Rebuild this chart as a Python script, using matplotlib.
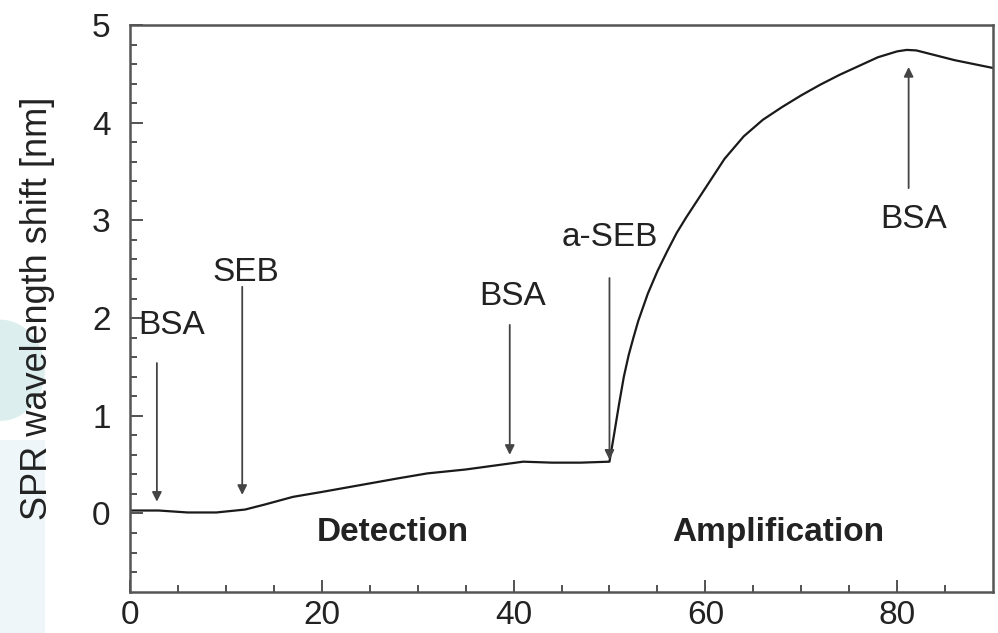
import matplotlib
matplotlib.use("Agg")
import matplotlib.pyplot as plt
from matplotlib.patches import Rectangle, Ellipse

plt.rcParams['font.family'] = ['Liberation Sans', 'DejaVu Sans']

# SPR response (time in min, shift in nm)
time_min = [0, 3, 6, 9, 12, 14, 17, 20, 24, 28, 31, 35, 38, 41, 44, 47, 50,
            50.5, 51, 51.5, 52, 52.5, 53, 54, 55, 56, 57, 58, 60, 62, 64, 66,
            68, 70, 72, 74, 76, 78, 80, 81, 82, 84, 86, 88, 90]
shift_nm = [0.03, 0.03, 0.01, 0.01, 0.04, 0.09, 0.17, 0.22, 0.29, 0.36, 0.41,
            0.45, 0.49, 0.53, 0.52, 0.52, 0.53,
            0.82, 1.12, 1.4, 1.62, 1.8, 1.97, 2.25, 2.48, 2.68, 2.87, 3.03,
            3.33, 3.63, 3.86, 4.03, 4.16, 4.28, 4.39, 4.49, 4.58, 4.67, 4.73,
            4.745, 4.74, 4.69, 4.64, 4.6, 4.56]

# injection markers: label, arrow x, arrow start y, arrow end y
inj_labels = ["BSA", "SEB", "BSA", "a-SEB", "BSA"]
inj_x = [2.8, 11.7, 39.6, 50.0, 81.2]
inj_from = [1.54, 2.32, 1.93, 2.41, 3.33]
inj_to = [0.12, 0.19, 0.60, 0.55, 4.57]
label_xy = [(4.3, 1.92), (12.1, 2.47), (39.9, 2.22), (50.0, 2.82), (81.7, 3.01)]

phase_labels = ["Detection", "Amplification"]
phase_x = [27.4, 67.6]

fig = plt.figure(figsize=(9.98, 6.33), dpi=100)

# faint background decoration at the left edge
fig.patches.append(Rectangle((0, 0), 0.045, 0.305, transform=fig.transFigure,
                             facecolor='#eef6fa', edgecolor='none', zorder=-5))
fig.patches.append(Ellipse((0.0, 0.415), 0.09, 0.16, transform=fig.transFigure,
                           facecolor='#dcefee', edgecolor='none', zorder=-5))

ax = fig.add_axes([0.1303, 0.0654, 0.8647, 0.8951])
ax.patch.set_alpha(0)

ax.plot(time_min, shift_nm, color='#1a1a1a', lw=1.6)

for x, y0, y1 in zip(inj_x, inj_from, inj_to):
    ax.annotate("", xy=(x, y1), xytext=(x, y0),
                arrowprops=dict(arrowstyle='-|>', color='#444444', lw=1.3,
                                mutation_scale=14, shrinkA=0, shrinkB=0))
for lab, (tx, ty) in zip(inj_labels, label_xy):
    ax.text(tx, ty, lab, ha='center', va='center', fontsize=24, color='#222222')

for lab, px in zip(phase_labels, phase_x):
    ax.text(px, -0.2, lab, ha='center', va='center', fontsize=24,
            fontweight='bold', color='#222222')

ax.set_xlim(0, 90)
ax.set_ylim(-0.8, 5)
ax.set_xticks([0, 20, 40, 60, 80])
ax.set_xticks(range(5, 90, 5), minor=True)
ax.set_yticks([0, 1, 2, 3, 4, 5])
ax.set_yticks([v / 10 for v in range(-6, 50, 2)], minor=True)
ax.tick_params(which='both', direction='in', colors='#444444', labelcolor='#222222',
               labelsize=24, width=1.3)
ax.tick_params(which='major', length=9)
ax.tick_params(which='minor', length=5)
ax.tick_params(axis='x', pad=6)
ax.tick_params(axis='y', pad=14)
for s in ax.spines.values():
    s.set_color('#555555')
    s.set_linewidth(1.8)

ax.set_ylabel("SPR wavelength shift [nm]", fontsize=26, color='#222222')
ax.yaxis.set_label_coords(-0.087, 0.5)

fig.savefig("out.png", dpi=100)
